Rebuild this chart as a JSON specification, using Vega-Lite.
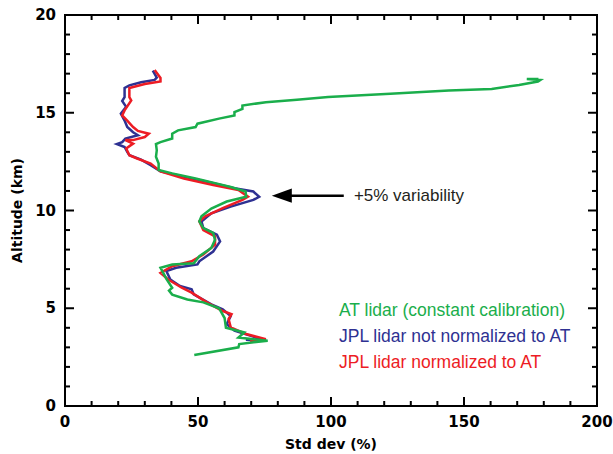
{
  "$schema": "https://vega.github.io/schema/vega-lite/v6.json",
  "width": 532,
  "height": 391,
  "autosize": "none",
  "padding": {"left": 65, "top": 15, "right": 16, "bottom": 48},
  "background": "white",
  "config": {"view": {"stroke": "black", "strokeWidth": 2}},
  "datasets": {
    "at": [
      {"i":0,"x":48.6,"y":2.61},{"i":1,"x":65.2,"y":3.0},{"i":2,"x":65.5,"y":3.17},{"i":3,"x":76.2,"y":3.34},{"i":4,"x":65.2,"y":3.5},{"i":5,"x":67.4,"y":3.76},{"i":6,"x":60.5,"y":4.0},{"i":7,"x":60,"y":4.5},{"i":8,"x":57.9,"y":5.0},{"i":9,"x":52,"y":5.3},{"i":10,"x":46,"y":5.45},{"i":11,"x":40.3,"y":5.7},{"i":12,"x":39.1,"y":5.9},{"i":13,"x":40.3,"y":6.05},{"i":14,"x":38.1,"y":6.5},{"i":15,"x":36.6,"y":6.9},{"i":16,"x":35.9,"y":7.07},{"i":17,"x":40.3,"y":7.24},{"i":18,"x":48.4,"y":7.3},{"i":19,"x":50.5,"y":7.66},{"i":20,"x":55,"y":8.08},{"i":21,"x":56.4,"y":8.5},{"i":22,"x":55.7,"y":8.85},{"i":23,"x":52,"y":9.1},{"i":24,"x":50.5,"y":9.44},{"i":25,"x":51.3,"y":9.7},{"i":26,"x":55,"y":10.1},{"i":27,"x":60.8,"y":10.46},{"i":28,"x":68.1,"y":10.7},{"i":29,"x":67.9,"y":10.97},{"i":30,"x":62.3,"y":11.2},{"i":31,"x":56.4,"y":11.4},{"i":32,"x":49.1,"y":11.64},{"i":33,"x":40.3,"y":11.9},{"i":34,"x":35.2,"y":12.07},{"i":35,"x":35.2,"y":12.4},{"i":36,"x":34.2,"y":12.75},{"i":37,"x":34.5,"y":13.08},{"i":38,"x":34.2,"y":13.4},{"i":39,"x":35.9,"y":13.5},{"i":40,"x":40.3,"y":13.68},{"i":41,"x":40.3,"y":13.93},{"i":42,"x":42.5,"y":14.1},{"i":43,"x":49.1,"y":14.27},{"i":44,"x":49.8,"y":14.44},{"i":45,"x":57.9,"y":14.7},{"i":46,"x":63.7,"y":14.86},{"i":47,"x":63.7,"y":15.03},{"i":48,"x":66.7,"y":15.2},{"i":49,"x":66.7,"y":15.37},{"i":50,"x":75.5,"y":15.54},{"i":51,"x":87.2,"y":15.66},{"i":52,"x":98.9,"y":15.8},{"i":53,"x":122.3,"y":15.97},{"i":54,"x":144.3,"y":16.14},{"i":55,"x":160.4,"y":16.22},{"i":56,"x":170.7,"y":16.42},{"i":57,"x":177.8,"y":16.6},{"i":58,"x":178.7,"y":16.68},{"i":59,"x":173.6,"y":16.73},{"i":60,"x":178,"y":16.73}
    ],
    "jplraw": [
      {"i":0,"x":33,"y":17.15},{"i":1,"x":34.5,"y":16.8},{"i":2,"x":33.7,"y":16.68},{"i":3,"x":28.6,"y":16.56},{"i":4,"x":24.2,"y":16.4},{"i":5,"x":22.4,"y":16.27},{"i":6,"x":22.4,"y":15.8},{"i":7,"x":21.5,"y":15.6},{"i":8,"x":23,"y":15.3},{"i":9,"x":21,"y":14.95},{"i":10,"x":22.4,"y":14.6},{"i":11,"x":23.4,"y":14.27},{"i":12,"x":25.6,"y":14.0},{"i":13,"x":27.4,"y":13.85},{"i":14,"x":22.7,"y":13.68},{"i":15,"x":21.5,"y":13.5},{"i":16,"x":19.5,"y":13.4},{"i":17,"x":22.4,"y":13.25},{"i":18,"x":23.4,"y":13.0},{"i":19,"x":24.2,"y":12.83},{"i":20,"x":28.6,"y":12.6},{"i":21,"x":32.2,"y":12.32},{"i":22,"x":35.9,"y":12.0},{"i":23,"x":44.7,"y":11.73},{"i":24,"x":55,"y":11.42},{"i":25,"x":63.7,"y":11.14},{"i":26,"x":70.8,"y":10.97},{"i":27,"x":73,"y":10.7},{"i":28,"x":70.8,"y":10.54},{"i":29,"x":62.3,"y":10.2},{"i":30,"x":55,"y":9.86},{"i":31,"x":51.3,"y":9.44},{"i":32,"x":52,"y":9.1},{"i":33,"x":57.1,"y":8.76},{"i":34,"x":58.3,"y":8.42},{"i":35,"x":55.7,"y":7.9},{"i":36,"x":50.5,"y":7.4},{"i":37,"x":49.8,"y":7.24},{"i":38,"x":41.8,"y":7.07},{"i":39,"x":38.1,"y":6.9},{"i":40,"x":39.6,"y":6.47},{"i":41,"x":43.2,"y":6.14},{"i":42,"x":47.6,"y":5.97},{"i":43,"x":48.4,"y":5.71},{"i":44,"x":55,"y":5.2},{"i":45,"x":59.3,"y":4.95},{"i":46,"x":62.3,"y":4.6},{"i":47,"x":60.8,"y":4.19},{"i":48,"x":63.7,"y":3.85},{"i":49,"x":69.6,"y":3.6},{"i":50,"x":75.5,"y":3.34},{"i":51,"x":68,"y":3.39}
    ],
    "jplnorm": [
      {"i":0,"x":33.7,"y":17.19},{"i":1,"x":35.9,"y":16.78},{"i":2,"x":35.9,"y":16.6},{"i":3,"x":30,"y":16.47},{"i":4,"x":24.2,"y":16.27},{"i":5,"x":24.2,"y":15.8},{"i":6,"x":24.9,"y":15.63},{"i":7,"x":22.4,"y":15.12},{"i":8,"x":21.5,"y":14.86},{"i":9,"x":23.4,"y":14.6},{"i":10,"x":25.6,"y":14.27},{"i":11,"x":27.4,"y":14.07},{"i":12,"x":31.5,"y":13.93},{"i":13,"x":30,"y":13.76},{"i":14,"x":25.6,"y":13.6},{"i":15,"x":22.7,"y":13.6},{"i":16,"x":25.6,"y":13.42},{"i":17,"x":23,"y":13.17},{"i":18,"x":24.2,"y":12.83},{"i":19,"x":27.1,"y":12.66},{"i":20,"x":32.2,"y":12.4},{"i":21,"x":35.9,"y":12.0},{"i":22,"x":44.7,"y":11.64},{"i":23,"x":55.7,"y":11.3},{"i":24,"x":65.2,"y":11.05},{"i":25,"x":68.8,"y":10.71},{"i":26,"x":66.7,"y":10.54},{"i":27,"x":59.3,"y":10.12},{"i":28,"x":52.7,"y":9.7},{"i":29,"x":50.5,"y":9.44},{"i":30,"x":52,"y":9.0},{"i":31,"x":56.4,"y":8.68},{"i":32,"x":56.4,"y":8.25},{"i":33,"x":52,"y":7.75},{"i":34,"x":47.6,"y":7.4},{"i":35,"x":40.3,"y":7.15},{"i":36,"x":35.9,"y":6.81},{"i":37,"x":38.8,"y":6.47},{"i":38,"x":43.9,"y":6.05},{"i":39,"x":47.6,"y":5.8},{"i":40,"x":53.5,"y":5.29},{"i":41,"x":59.3,"y":4.86},{"i":42,"x":62.6,"y":4.7},{"i":43,"x":61.5,"y":4.45},{"i":44,"x":62.3,"y":4.02},{"i":45,"x":68.1,"y":3.68},{"i":46,"x":75.5,"y":3.42},{"i":47,"x":69.6,"y":3.3}
    ],
    "legend": [
      {"label":"AT lidar (constant calibration)","x":103,"y":4.86},
      {"label":"JPL lidar not normalized to AT","x":103,"y":3.52},
      {"label":"JPL lidar normalized to AT","x":103,"y":2.2}
    ],
    "note": [{"label":"+5% variability","x":108.6,"y":10.76,"xa":81.5,"xb":104.8}],
    "xtitle": [{"label":"Std dev (%)"}],
    "ytitle": [{"label":"Altitude (km)"}],
    "xticks": [{"v":0},{"v":10},{"v":20},{"v":30},{"v":40},{"v":50},{"v":60},{"v":70},{"v":80},{"v":90},{"v":100},{"v":110},{"v":120},{"v":130},{"v":140},{"v":150},{"v":160},{"v":170},{"v":180},{"v":190},{"v":200}],
    "yticks": [{"v":0},{"v":1},{"v":2},{"v":3},{"v":4},{"v":5},{"v":6},{"v":7},{"v":8},{"v":9},{"v":10},{"v":11},{"v":12},{"v":13},{"v":14},{"v":15},{"v":16},{"v":17},{"v":18},{"v":19},{"v":20}]
  },
  "layer": [
    {
      "data": {"name": "jplraw"},
      "mark": {"type": "line", "color": "#2e3192", "strokeWidth": 2.5},
      "encoding": {
        "x": {"field": "x", "type": "quantitative", "scale": {"domain": [0, 200], "nice": false}, "axis": null},
        "y": {"field": "y", "type": "quantitative", "scale": {"domain": [0, 20], "nice": false}, "axis": null},
        "order": {"field": "i", "type": "quantitative"}
      }
    },
    {
      "data": {"name": "jplnorm"},
      "mark": {"type": "line", "color": "#ed1c24", "strokeWidth": 2.5},
      "encoding": {
        "x": {"field": "x", "type": "quantitative", "axis": null},
        "y": {"field": "y", "type": "quantitative", "axis": null},
        "order": {"field": "i", "type": "quantitative"}
      }
    },
    {
      "data": {"name": "at"},
      "mark": {"type": "line", "color": "#1aae4b", "strokeWidth": 2.5},
      "encoding": {
        "x": {"field": "x", "type": "quantitative", "axis": null},
        "y": {"field": "y", "type": "quantitative", "axis": null},
        "order": {"field": "i", "type": "quantitative"}
      }
    },
    {
      "data": {"name": "xticks"},
      "mark": {"type": "tick", "orient": "vertical", "thickness": 2, "color": "black", "opacity": 1, "clip": true},
      "encoding": {
        "x": {"field": "v", "type": "quantitative", "axis": null},
        "y": {"datum": 0, "type": "quantitative", "axis": null},
        "size": {"condition": {"test": "datum.v % 50 === 0", "value": 18}, "value": 10}
      }
    },
    {
      "data": {"name": "xticks"},
      "mark": {"type": "tick", "orient": "vertical", "thickness": 2, "color": "black", "opacity": 1, "clip": true},
      "encoding": {
        "x": {"field": "v", "type": "quantitative", "axis": null},
        "y": {"datum": 20, "type": "quantitative", "axis": null},
        "size": {"condition": {"test": "datum.v % 50 === 0", "value": 18}, "value": 10}
      }
    },
    {
      "data": {"name": "yticks"},
      "mark": {"type": "tick", "orient": "horizontal", "thickness": 2, "color": "black", "opacity": 1, "clip": true},
      "encoding": {
        "y": {"field": "v", "type": "quantitative", "axis": null},
        "x": {"datum": 0, "type": "quantitative", "axis": null},
        "size": {"condition": {"test": "datum.v % 5 === 0", "value": 18}, "value": 10}
      }
    },
    {
      "data": {"name": "yticks"},
      "mark": {"type": "tick", "orient": "horizontal", "thickness": 2, "color": "black", "opacity": 1, "clip": true},
      "encoding": {
        "y": {"field": "v", "type": "quantitative", "axis": null},
        "x": {"datum": 200, "type": "quantitative", "axis": null},
        "size": {"condition": {"test": "datum.v % 5 === 0", "value": 18}, "value": 10}
      }
    },
    {
      "data": {"name": "xticks"},
      "transform": [{"filter": "datum.v % 50 === 0"}],
      "mark": {"type": "text", "align": "center", "baseline": "top", "yOffset": 9, "font": "DejaVu Sans", "fontWeight": "bold", "fontSize": 15, "color": "black"},
      "encoding": {
        "x": {"field": "v", "type": "quantitative", "axis": null},
        "y": {"datum": 0, "type": "quantitative", "axis": null},
        "text": {"field": "v", "type": "quantitative", "format": "d"}
      }
    },
    {
      "data": {"name": "yticks"},
      "transform": [{"filter": "datum.v % 5 === 0"}],
      "mark": {"type": "text", "align": "right", "baseline": "middle", "xOffset": -9, "font": "DejaVu Sans", "fontWeight": "bold", "fontSize": 15, "color": "black"},
      "encoding": {
        "y": {"field": "v", "type": "quantitative", "axis": null},
        "x": {"datum": 0, "type": "quantitative", "axis": null},
        "text": {"field": "v", "type": "quantitative", "format": "d"}
      }
    },
    {
      "data": {"name": "xtitle"},
      "mark": {"type": "text", "align": "center", "baseline": "middle", "yOffset": 39, "font": "DejaVu Sans", "fontWeight": "bold", "fontSize": 14, "color": "black"},
      "encoding": {
        "x": {"datum": 100, "type": "quantitative", "axis": null},
        "y": {"datum": 0, "type": "quantitative", "axis": null},
        "text": {"field": "label"}
      }
    },
    {
      "data": {"name": "ytitle"},
      "mark": {"type": "text", "align": "center", "baseline": "middle", "angle": 270, "xOffset": -47, "font": "DejaVu Sans", "fontWeight": "bold", "fontSize": 14, "color": "black"},
      "encoding": {
        "x": {"datum": 0, "type": "quantitative", "axis": null},
        "y": {"datum": 10, "type": "quantitative", "axis": null},
        "text": {"field": "label"}
      }
    },
    {
      "data": {"name": "legend"},
      "mark": {"type": "text", "align": "left", "baseline": "middle", "font": "Liberation Sans", "fontSize": 17.5},
      "encoding": {
        "x": {"field": "x", "type": "quantitative", "axis": null},
        "y": {"field": "y", "type": "quantitative", "axis": null},
        "text": {"field": "label"},
        "color": {"field": "label", "type": "nominal", "legend": null,
          "scale": {"domain": ["AT lidar (constant calibration)", "JPL lidar not normalized to AT", "JPL lidar normalized to AT"],
            "range": ["#1aae4b", "#2e3192", "#ed1c24"]}}
      }
    },
    {
      "data": {"name": "note"},
      "mark": {"type": "text", "align": "left", "baseline": "middle", "font": "Liberation Sans", "fontSize": 17, "color": "#231f20"},
      "encoding": {
        "x": {"field": "x", "type": "quantitative", "axis": null},
        "y": {"field": "y", "type": "quantitative", "axis": null},
        "text": {"field": "label"}
      }
    },
    {
      "data": {"name": "note"},
      "mark": {"type": "rule", "color": "black", "strokeWidth": 2.5},
      "encoding": {
        "x": {"field": "xa", "type": "quantitative", "axis": null},
        "x2": {"field": "xb"},
        "y": {"field": "y", "type": "quantitative", "axis": null}
      }
    },
    {
      "data": {"name": "note"},
      "mark": {"type": "point", "shape": "M-1,0L1,-0.72L1,0.72Z", "filled": true, "color": "black", "opacity": 1, "size": 400},
      "encoding": {
        "x": {"field": "xa", "type": "quantitative", "axis": null},
        "y": {"field": "y", "type": "quantitative", "axis": null}
      }
    }
  ]
}
